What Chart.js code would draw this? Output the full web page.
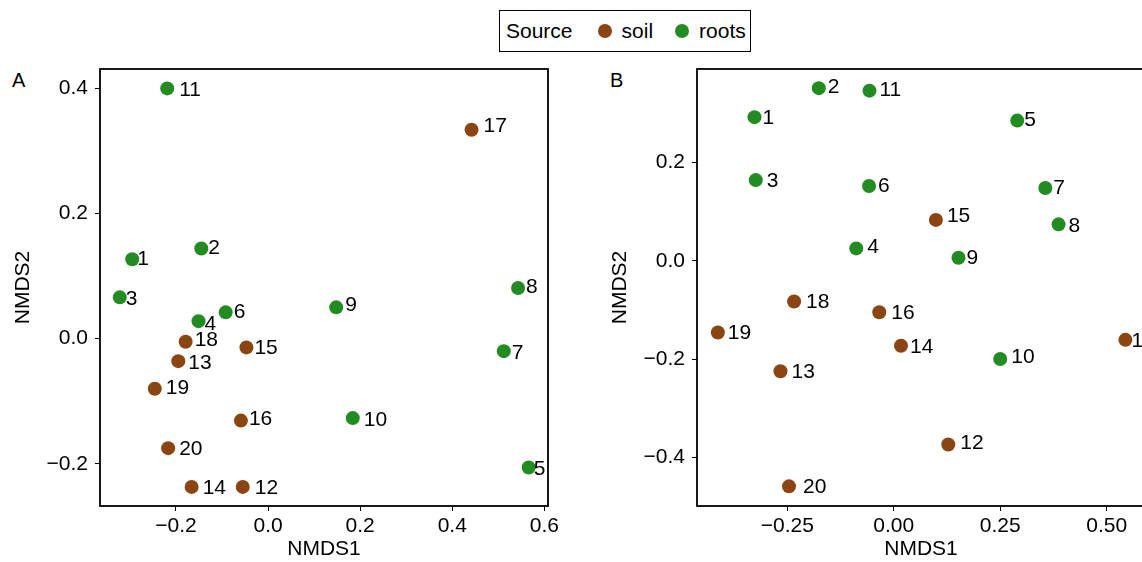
<!DOCTYPE html>
<html>
<head>
<meta charset="utf-8">
<script src="https://cdn.jsdelivr.net/npm/chart.js@4/dist/chart.umd.min.js"></script>
<style>
  html, body { margin: 0; padding: 0; background: #fff; }
  body { width: 1142px; height: 562px; overflow: hidden; position: relative;
         font-family: "Liberation Sans", Arial, sans-serif; color: #000; }
  canvas { position: absolute; top: 0; }
  #chartA { left: 0; }
  #chartB { left: 597px; }
  .tag { position: absolute; font-size: 20px; line-height: 20px; }
  #legend { position: absolute; left: 499px; top: 10px; width: 252px; height: 42px;
            box-sizing: border-box; border: 1.5px solid #000; display: flex;
            align-items: center; padding-left: 6px; font-size: 21px; white-space: nowrap; }
  #legend .title { margin-right: 25px; }
  #legend .dot { flex: 0 0 14px; width: 14px; height: 14px; border-radius: 50%; margin-right: 10px; }
  #legend .lbl { margin-right: 22px; }
</style>
</head>
<body>
<div class="tag" style="left:12px;top:70px;">A</div>
<div class="tag" style="left:610px;top:70px;">B</div>
<div id="legend"></div>
<canvas id="chartA" width="600" height="562"></canvas>
<canvas id="chartB" width="563" height="562"></canvas>
<script>
// samples 1..20, source per sample
const sampleIds = [1, 2, 3, 4, 5, 6, 7, 8, 9, 10, 11, 12, 13, 14, 15, 16, 17, 18, 19, 20];
const sampleSource = ["roots", "roots", "roots", "roots", "roots", "roots", "roots", "roots", "roots", "roots",
  "roots", "soil", "soil", "soil", "soil", "soil", "soil", "soil", "soil", "soil"];
const sources = ["soil", "roots"];
const sourceColors = ["#8B4513", "#228B22"];

// panel A
const nmds1A = [-0.295, -0.145, -0.322, -0.151, 0.566, -0.092, 0.512, 0.543, 0.148, 0.184,
  -0.219, -0.055, -0.195, -0.166, -0.047, -0.059, 0.442, -0.179, -0.246, -0.217];
const nmds2A = [0.127, 0.144, 0.066, 0.028, -0.206, 0.042, -0.020, 0.081, 0.050, -0.127,
  0.400, -0.237, -0.036, -0.237, -0.014, -0.131, 0.334, -0.005, -0.080, -0.175];
const xTicksA = [-0.2, 0, 0.2, 0.4, 0.6];
const yTicksA = [-0.2, 0, 0.2, 0.4];

// panel B
const nmds1B = [-0.327, -0.176, -0.324, -0.088, 0.290, -0.058, 0.356, 0.387, 0.152, 0.250,
  -0.057, 0.128, -0.266, 0.017, 0.099, -0.034, 0.544, -0.234, -0.413, -0.246];
const nmds2B = [0.292, 0.351, 0.164, 0.025, 0.285, 0.152, 0.148, 0.074, 0.006, -0.200,
  0.346, -0.374, -0.225, -0.173, 0.083, -0.105, -0.161, -0.083, -0.146, -0.459];
const xTicksB = [-0.25, 0, 0.25, 0.5];
const yTicksB = [-0.4, -0.2, 0, 0.2];

// label nudges (px, text start relative to point centre), repel-style
const nudgeA = [[5, -2], [7, -2], [6, 0], [6, 1], [5, 0], [8, -2], [8, 0], [8, -2], [9, -4], [11, 0],
  [12, 0], [12, 0], [10, 0], [11, 0], [8, -1], [8, -3], [12, -5], [9, -3], [11, -2], [11, -1]];
const nudgeB = [[8, -1], [9, -3], [11, -1], [11, -3], [7, -2], [9, -2], [8, -1], [10, 0], [8, -1], [11, -4],
  [10, -2], [12, -3], [11, -1], [9, 0], [11, -5], [12, -1], [6, 0], [12, -1], [10, -1], [14, -1]];

const FONT = '"Liberation Sans", Arial, sans-serif';
const FS = 21;
Chart.defaults.font.family = FONT;
Chart.defaults.font.size = FS;
Chart.defaults.color = "#000";

// legend
const legend = document.getElementById("legend");
legend.innerHTML = `<span class="title">Source</span>` + sources.map((s, i) =>
  `<span class="dot" style="background:${sourceColors[i]}"></span><span class="lbl">${s}</span>`).join("");

const panelPlugin = {
  id: "panel",
  afterDatasetsDraw(chart, args, opts) {
    const { ctx, chartArea: a } = chart;
    ctx.save();
    ctx.font = `${FS}px ${FONT}`;
    ctx.fillStyle = "#000";
    ctx.textAlign = "left";
    ctx.textBaseline = "alphabetic";
    chart.data.datasets.forEach((ds, di) => {
      chart.getDatasetMeta(di).data.forEach((pt, j) => {
        const id = ds.ids[j];
        const n = opts.nudge[id - 1];
        ctx.fillText(String(id), pt.x + n[0], pt.y + n[1] + FS * 0.358);
      });
    });
    ctx.lineWidth = 1.8;
    ctx.strokeStyle = "#000";
    ctx.strokeRect(a.left, a.top, a.right - a.left, a.bottom - a.top);
    ctx.restore();
  },
};

function makeDatasets(xs, ys) {
  return sources.map((src, i) => {
    const idx = sampleIds.map((_, k) => k).filter((k) => sampleSource[k] === src);
    return {
      label: src,
      ids: idx.map((k) => sampleIds[k]),
      data: idx.map((k) => ({ x: xs[k], y: ys[k] })),
      backgroundColor: sourceColors[i],
      borderWidth: 0,
      pointRadius: 7,
    };
  });
}

function axis(min, max, ticks, decimals, title, isY, fitSize) {
  return {
    type: "linear",
    min, max,
    afterBuildTicks: (s) => { s.ticks = ticks.map((v) => ({ value: v })); },
    afterFit: (s) => { if (isY) s.width = fitSize; else s.height = fitSize; },
    ticks: {
      padding: isY ? 7 : 3,
      color: "#000",
      font: { size: FS },
      callback: (v) => Number(v).toFixed(decimals).replace("-", "\u2212"),
    },
    grid: { display: true, drawOnChartArea: false, drawTicks: true, tickLength: 5, color: "#000", lineWidth: 1 },
    border: { display: false },
    title: {
      display: true, text: title, color: "#000", font: { size: FS },
      padding: isY ? { top: 11, bottom: 0 } : { top: 0, bottom: 0 },
    },
  };
}

function makeChart(id, xs, ys, xr, yr, xt, yt, xd, yd, nudge, padRight) {
  return new Chart(document.getElementById(id), {
    type: "scatter",
    data: { datasets: makeDatasets(xs, ys) },
    options: {
      responsive: false,
      animation: false,
      devicePixelRatio: 1,
      layout: { autoPadding: false, padding: { top: 69, right: padRight, bottom: 0, left: 0 } },
      plugins: { legend: { display: false }, tooltip: { enabled: false }, panel: { nudge } },
      scales: {
        x: axis(xr[0], xr[1], xt, xd, "NMDS1", false, 56),
        y: axis(yr[0], yr[1], yt, yd, "NMDS2", true, 100),
      },
    },
    plugins: [panelPlugin],
  });
}

makeChart("chartA", nmds1A, nmds2A, [-0.365, 0.608], [-0.2675, 0.431], xTicksA, yTicksA, 1, 1, nudgeA, 52);
makeChart("chartB", nmds1B, nmds2B, [-0.462, 0.590], [-0.499, 0.390], xTicksB, yTicksB, 2, 1, nudgeB, 15);
</script>
</body>
</html>
